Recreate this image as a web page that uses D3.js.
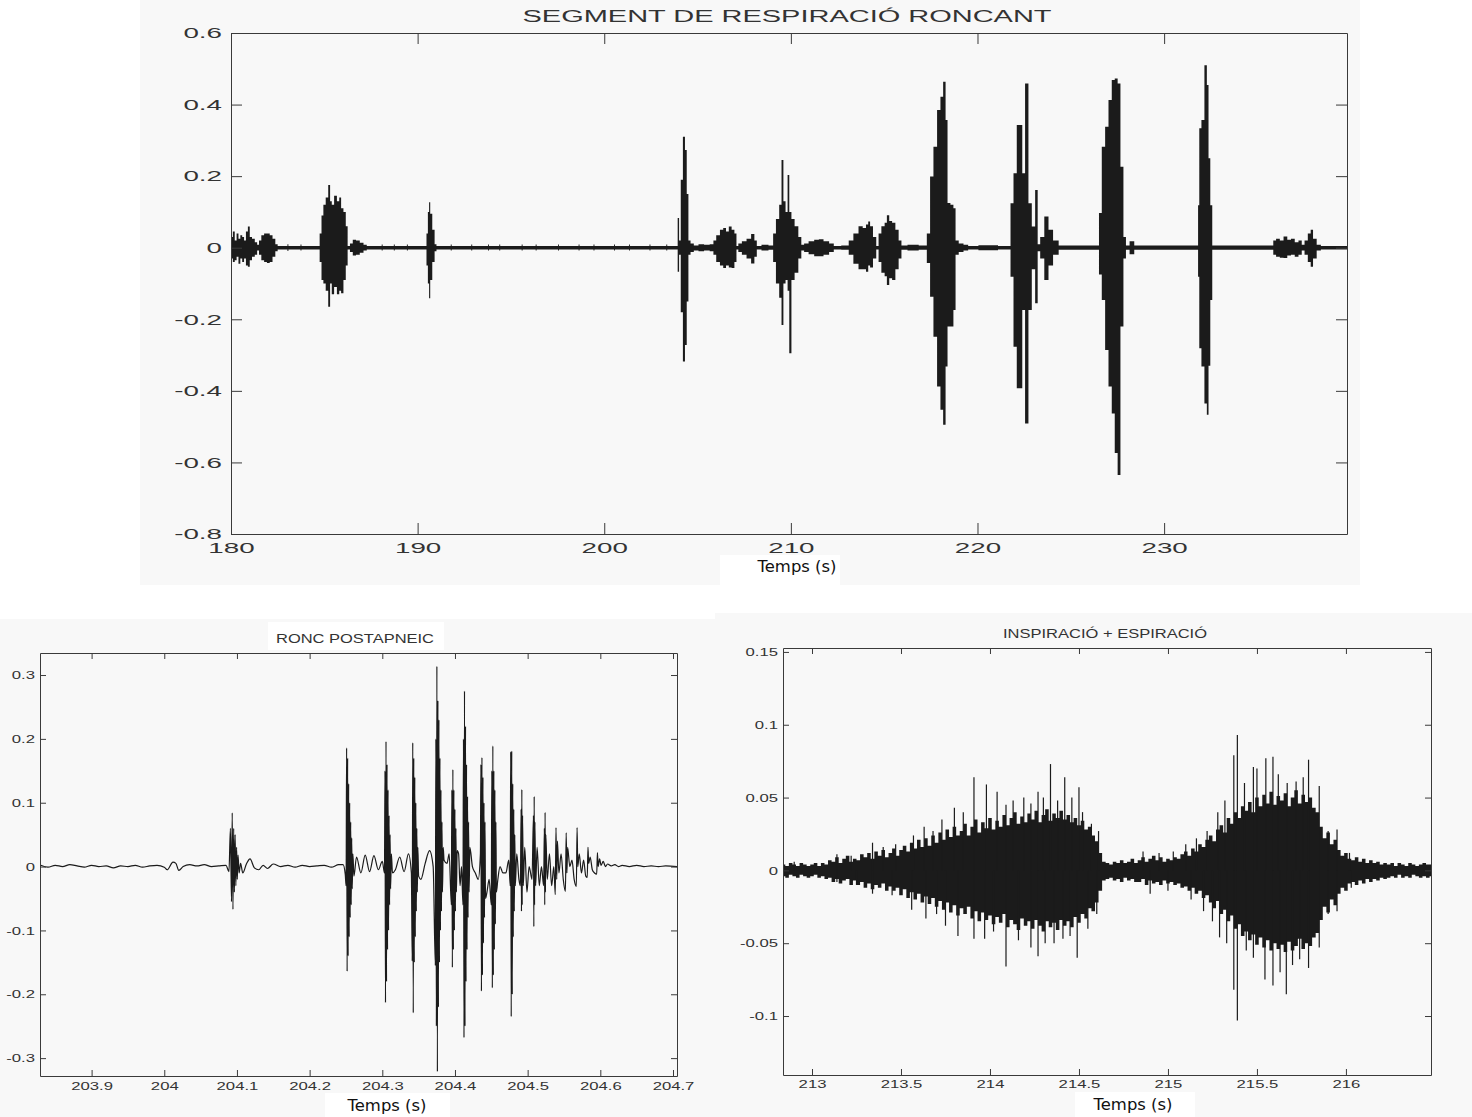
<!DOCTYPE html>
<html>
<head>
<meta charset="utf-8">
<script src="https://cdn.jsdelivr.net/npm/d3@7"></script>
<style>
  body { margin: 0; background: #ffffff; }
  svg { display: block; }
</style>
</head>
<body>
<script>
// ---- data ----

// top panel: envelope of the whole snoring segment (s, upper, lower)
var topTime = [
  180.00,180.05,180.15,180.25,180.35,180.45,180.55,180.65,180.75,180.85,180.96,181.05,181.20,181.35,181.45,181.55,181.70,181.85,182.00,182.15,182.30,182.45,182.55,
  183.00,183.05,183.10,183.70,183.75,183.80,
  184.70,184.80,184.90,185.00,185.15,185.27,185.35,185.45,185.60,185.75,185.85,185.95,186.10,186.20,186.30,186.45,186.60,186.80,187.00,187.20,187.35,
  188.05,188.10,188.15,188.70,188.75,188.80,189.40,189.45,189.50,
  190.45,190.50,190.60,190.63,190.72,190.85,190.97,191.05,
  191.75,191.80,191.85,192.85,192.90,192.95,193.75,193.80,193.85,194.35,194.40,194.45,195.55,195.60,195.65,196.30,196.35,196.40,197.50,197.55,197.60,198.60,198.65,198.70,199.40,199.45,199.50,200.50,200.55,200.60,201.30,201.35,201.40,202.40,202.45,202.50,203.30,203.35,203.40,
  203.90,203.97,204.05,204.15,204.28,204.37,204.47,204.55,204.70,204.90,205.20,205.50,205.80,205.90,206.10,206.30,206.45,206.60,206.75,206.90,207.05,207.12,207.25,207.50,207.75,207.99,208.10,208.25,208.60,209.00,209.10,209.30,209.45,209.55,209.65,209.78,209.87,209.96,210.10,210.30,210.50,210.62,210.80,211.10,211.40,211.60,211.90,212.20,212.40,213.00,213.20,213.50,213.75,213.95,214.10,214.19,214.30,214.50,214.65,214.75,214.95,215.10,215.19,215.35,215.50,215.70,215.85,216.00,216.50,
  217.20,217.37,217.55,217.73,217.94,218.09,218.23,218.35,218.44,218.66,218.76,218.89,219.10,219.40,219.60,220.50,221.70,221.84,222.02,222.19,222.34,222.46,222.64,222.82,223.00,223.18,223.27,223.45,223.71,223.90,224.20,224.50,225.30,226.45,226.57,226.75,226.93,227.11,227.28,227.43,227.59,227.73,227.91,228.00,228.30,228.50,229.50,231.80,231.84,231.93,232.07,232.25,232.33,232.43,232.52,232.64,235.80,235.90,236.10,236.30,236.50,236.70,236.90,237.10,237.30,237.45,237.60,237.80,237.91,238.05,238.30,238.50,239.80
];
var topUpper = [
  .005,.030,.045,.020,.040,.025,.035,.030,.020,.045,.059,.030,.025,.015,.008,.020,.035,.040,.040,.035,.025,.010,.005,
  .005,.010,.005,.005,.009,.005,
  .005,.040,.090,.120,.140,.175,.130,.120,.145,.130,.140,.110,.100,.060,.005,.012,.022,.020,.014,.008,.005,
  .005,.009,.005,.005,.009,.005,.005,.009,.005,
  .005,.040,.100,.127,.095,.050,.010,.005,
  .005,.009,.005,.005,.009,.005,.005,.009,.005,.005,.009,.005,.005,.009,.005,.005,.009,.005,.005,.009,.005,.005,.009,.005,.005,.009,.005,.005,.009,.005,.005,.009,.005,.005,.009,.005,.005,.009,.005,
  .005,.083,.020,.190,.310,.273,.150,.020,.012,.006,.010,.008,.010,.020,.035,.050,.055,.045,.059,.050,.040,.005,.012,.018,.025,.038,.020,.005,.008,.006,.040,.080,.120,.245,.130,.100,.203,.100,.080,.060,.030,.008,.012,.018,.022,.024,.018,.012,.005,.006,.020,.040,.060,.055,.065,.073,.060,.030,.005,.040,.060,.070,.091,.075,.070,.050,.020,.006,.008,
  .006,.040,.199,.282,.385,.422,.464,.357,.125,.120,.110,.020,.012,.008,.005,.007,.005,.124,.208,.343,.343,.208,.459,.124,.059,.161,.010,.030,.087,.050,.020,.006,.006,.006,.097,.282,.338,.413,.469,.473,.459,.226,.030,.006,.018,.006,.006,.006,.119,.334,.357,.510,.455,.250,.119,.006,.006,.020,.025,.020,.031,.022,.025,.015,.020,.008,.020,.040,.050,.025,.008,.005,.005
];
var topLower = [
  -.005,-.030,-.040,-.035,-.025,-.045,-.030,-.040,-.030,-.050,-.053,-.035,-.025,-.020,-.008,-.020,-.035,-.040,-.043,-.040,-.025,-.010,-.005,
  -.005,-.009,-.005,-.005,-.008,-.005,
  -.005,-.040,-.090,-.100,-.120,-.165,-.100,-.130,-.110,-.130,-.120,-.127,-.090,-.050,-.005,-.012,-.022,-.020,-.014,-.008,-.005,
  -.005,-.008,-.005,-.005,-.008,-.005,-.005,-.008,-.005,
  -.005,-.050,-.100,-.141,-.090,-.040,-.010,-.005,
  -.005,-.008,-.005,-.005,-.008,-.005,-.005,-.008,-.005,-.005,-.008,-.005,-.005,-.008,-.005,-.005,-.008,-.005,-.005,-.008,-.005,-.005,-.008,-.005,-.005,-.008,-.005,-.005,-.008,-.005,-.005,-.008,-.005,-.005,-.008,-.005,-.005,-.008,-.005,
  -.005,-.067,-.020,-.180,-.318,-.272,-.150,-.020,-.012,-.008,-.010,-.008,-.010,-.020,-.040,-.050,-.057,-.050,-.055,-.057,-.040,-.005,-.012,-.020,-.030,-.044,-.025,-.005,-.008,-.006,-.040,-.100,-.140,-.216,-.100,-.090,-.120,-.295,-.090,-.070,-.030,-.008,-.012,-.018,-.024,-.024,-.020,-.012,-.005,-.006,-.020,-.045,-.060,-.060,-.067,-.050,-.055,-.030,-.005,-.040,-.070,-.080,-.104,-.085,-.090,-.060,-.030,-.006,-.008,
  -.006,-.043,-.137,-.249,-.388,-.453,-.495,-.332,-.220,-.220,-.174,-.020,-.012,-.008,-.005,-.007,-.005,-.081,-.277,-.393,-.393,-.174,-.491,-.174,-.060,-.155,-.010,-.030,-.090,-.050,-.020,-.006,-.006,-.006,-.075,-.146,-.286,-.388,-.463,-.574,-.635,-.220,-.030,-.006,-.018,-.006,-.006,-.006,-.081,-.281,-.332,-.435,-.467,-.330,-.146,-.006,-.006,-.020,-.025,-.028,-.029,-.022,-.020,-.025,-.020,-.008,-.020,-.040,-.053,-.030,-.008,-.005,-.005
];
var topXTicks = [180, 190, 200, 210, 220, 230];
var topXLabels = ["180", "190", "200", "210", "220", "230"];
var topYTicks = [-0.8, -0.6, -0.4, -0.2, 0, 0.2, 0.4, 0.6];
var topYLabels = ["-0.8", "-0.6", "-0.4", "-0.2", "0", "0.2", "0.4", "0.6"];

// bottom left: post-apnoeic snore, trace points (s, value)
var blTime = [
  203.830,203.840,203.850,203.860,203.870,203.880,203.890,203.900,203.910,203.920,203.930,203.940,203.950,203.960,203.970,203.980,203.990,204.000,
  204.004,204.012,204.016,204.020,204.026,204.035,204.045,204.055,204.065,204.075,204.085,204.089,204.091,204.0925,204.0935,204.0945,204.0955,204.0965,204.0975,204.0985,204.0995,204.1005,204.1015,204.103,204.105,204.108,204.113,204.118,204.124,204.130,204.136,204.142,204.150,204.160,204.170,204.180,204.190,204.200,204.210,204.220,204.230,204.240,
  204.246,204.249,204.2502,204.2509,204.2516,204.2523,204.253,204.2537,204.2544,204.2551,204.2558,204.2565,204.2572,204.2579,204.2586,204.2595,204.261,204.2645,204.2705,204.2765,204.2825,204.2885,204.2945,204.300,
  204.303,204.3037,204.3044,204.3051,204.3058,204.3065,204.3072,204.3079,204.3086,204.3093,204.310,204.3107,204.3114,204.3125,204.314,204.318,204.324,204.330,204.336,204.340,
  204.3412,204.3419,204.3426,204.3433,204.344,204.3447,204.3454,204.3461,204.3468,204.3475,204.3482,204.3489,204.350,204.353,204.359,204.365,204.370,
  204.373,204.3737,204.3744,204.3751,204.3758,204.3765,204.3772,204.3779,204.3786,204.3793,204.380,204.3807,204.3814,204.3821,204.3828,204.3838,204.385,204.389,204.392,
  204.395,204.3957,204.3964,204.3971,204.3978,204.3985,204.3992,204.3999,204.4006,204.4013,204.402,204.403,204.405,204.407,204.409,
  204.411,204.4117,204.4124,204.4131,204.4138,204.4145,204.4152,204.4159,204.4166,204.4173,204.418,204.4187,204.4194,204.4205,204.424,204.428,204.432,
  204.435,204.4357,204.4364,204.4371,204.4378,204.4385,204.4392,204.4399,204.4406,204.4413,204.442,204.444,204.447,
  204.450,204.4507,204.4514,204.4521,204.4528,204.4535,204.4542,204.4549,204.4556,204.4563,204.457,204.459,204.462,204.466,204.470,204.474,
  204.476,204.4767,204.4774,204.4781,204.4788,204.4795,204.4802,204.4809,204.4816,204.4823,204.483,204.485,204.488,
  204.490,204.491,204.4915,204.492,204.4925,204.493,204.494,204.496,204.499,204.502,
  204.506,204.508,204.5085,204.509,204.5095,204.510,204.511,204.513,204.516,204.519,
  204.522,204.523,204.5235,204.524,204.5245,204.525,204.527,204.530,204.533,204.536,
  204.538,204.539,204.540,204.541,204.543,204.546,204.549,
  204.552,204.553,204.554,204.555,204.558,204.561,204.564,
  204.567,204.568,204.569,204.571,204.574,204.577,204.580,
  204.582,204.583,204.584,204.586,204.589,204.592,
  204.595,204.596,204.597,204.599,204.601,204.604,204.607,204.610,204.615,204.620,204.625,204.630,204.640,204.650,204.660,204.670,204.680,204.690,204.7055
];
var blValue = [
  .002,-.001,.002,.000,.003,.001,-.001,.002,.000,.001,-.002,.001,.000,.002,-.001,.001,.002,-.001,
  -.005,.007,.005,-.006,.000,.003,.001,.003,.000,.001,.002,-.008,.060,-.055,.084,-.067,.060,-.040,.050,-.030,.030,-.020,.018,-.010,.005,-.010,.004,.012,-.002,-.005,.002,-.003,.004,.000,.002,-.001,.002,.000,.001,.002,-.001,.003,
  .003,-.012,-.030,.186,-.164,.170,-.140,.130,-.110,.100,-.080,.070,-.060,.045,-.035,.020,-.015,.015,-.010,.018,-.008,.017,-.005,.008,
  -.010,.150,-.213,.196,-.180,.160,-.130,.120,-.100,.080,-.060,.050,-.035,.020,-.010,-.005,.015,-.008,.020,-.010,
  -.148,.194,-.229,.170,-.150,.140,-.110,.100,-.070,.060,-.040,.030,-.015,-.020,.005,.025,.000,
  -.155,.200,-.250,.314,-.321,.260,-.220,.230,-.150,.170,-.100,.120,-.070,.070,-.040,.030,.010,.005,.020,
  -.060,.120,-.158,.152,-.130,.120,-.100,.090,-.070,.060,-.040,.025,.020,-.030,.000,
  -.060,.200,-.268,.275,-.250,.220,-.180,.160,-.130,.110,-.080,.070,-.040,.030,.000,-.010,-.020,
  .020,.160,-.195,.171,-.170,.140,-.120,.100,-.080,.070,-.050,-.040,-.020,
  -.060,.150,-.190,.189,-.170,.150,-.130,.120,-.090,.070,-.040,-.020,.000,-.010,-.010,.010,
  -.030,.180,-.235,.181,-.200,.130,-.110,.090,-.070,.050,-.030,.020,-.020,
  -.030,.090,-.070,.121,-.060,.080,-.030,.030,-.040,.000,
  -.020,.080,-.094,.110,-.060,.070,-.030,.030,-.030,.000,
  -.030,.060,-.060,.085,-.040,.050,-.020,.020,-.030,.000,
  -.044,.061,-.020,.040,-.010,.020,-.020,
  -.039,.053,-.010,.030,.000,.010,-.020,
  -.031,.061,.000,.020,-.010,.010,-.015,
  -.017,.030,.005,.015,-.005,-.010,
  -.012,.022,.000,.012,.002,.008,.000,.004,.001,.003,.000,.002,.000,.002,.000,.001,.000,.001,.000
];
var blXTicks = [203.9, 204, 204.1, 204.2, 204.3, 204.4, 204.5, 204.6, 204.7];
var blXLabels = ["203.9", "204", "204.1", "204.2", "204.3", "204.4", "204.5", "204.6", "204.7"];
var blYTicks = [-0.3, -0.2, -0.1, 0, 0.1, 0.2, 0.3];
var blYLabels = ["-0.3", "-0.2", "-0.1", "0", "0.1", "0.2", "0.3"];

// bottom right: inspiration + expiration, ragged dense core and the loose spikes
var brTime = [
  212.84,212.86,212.88,212.90,212.92,212.94,212.96,212.98,213.00,213.02,
  213.04,213.06,213.08,213.10,213.12,213.14,213.16,213.18,213.20,213.22,
  213.24,213.26,213.28,213.30,213.32,213.34,213.36,213.38,213.40,213.42,
  213.44,213.46,213.48,213.50,213.52,213.54,213.56,213.58,213.60,213.62,
  213.64,213.66,213.68,213.70,213.72,213.74,213.76,213.78,213.80,213.82,
  213.84,213.86,213.88,213.90,213.92,213.94,213.96,213.98,214.00,214.02,
  214.04,214.06,214.08,214.10,214.12,214.14,214.16,214.18,214.20,214.22,
  214.24,214.26,214.28,214.30,214.32,214.34,214.36,214.38,214.40,214.42,
  214.44,214.46,214.48,214.50,214.52,214.54,214.56,214.58,214.60,214.62,
  214.64,214.66,214.68,214.70,214.72,214.74,214.76,214.78,214.80,214.82,
  214.84,214.86,214.88,214.90,214.92,214.94,214.96,214.98,215.00,215.02,
  215.04,215.06,215.08,215.10,215.12,215.14,215.16,215.18,215.20,215.22,
  215.24,215.26,215.28,215.30,215.32,215.34,215.36,215.38,215.40,215.42,
  215.44,215.46,215.48,215.50,215.52,215.54,215.56,215.58,215.60,215.62,
  215.64,215.66,215.68,215.70,215.72,215.74,215.76,215.78,215.80,215.82,
  215.84,215.86,215.88,215.90,215.92,215.94,215.96,215.98,216.00,216.02,
  216.04,216.06,216.08,216.10,216.12,216.14,216.16,216.18,216.20,216.22,
  216.24,216.26,216.28,216.30,216.32,216.34,216.36,216.38,216.40,216.42,
  216.44,216.46,216.48
];
var brUpper = [
  .004,.003,.005,.004,.003,.005,.004,.003,.004,.005,
  .003,.005,.004,.007,.006,.009,.005,.008,.010,.006,
  .008,.007,.011,.009,.012,.008,.013,.010,.014,.009,
  .012,.015,.010,.014,.017,.013,.019,.015,.021,.016,
  .022,.017,.024,.019,.026,.021,.028,.023,.030,.024,
  .027,.032,.024,.030,.035,.026,.033,.029,.036,.028,
  .034,.030,.038,.031,.036,.040,.032,.037,.033,.039,
  .035,.041,.033,.038,.042,.034,.039,.036,.041,.035,
  .038,.033,.036,.031,.034,.028,.030,.024,.020,.012,
  .006,.005,.004,.006,.005,.007,.005,.006,.008,.005,
  .007,.009,.006,.008,.010,.007,.009,.006,.008,.007,
  .009,.008,.011,.013,.010,.015,.013,.018,.016,.021,
  .024,.020,.028,.031,.026,.036,.032,.040,.036,.044,
  .041,.047,.040,.050,.044,.052,.046,.054,.045,.051,
  .048,.053,.044,.050,.055,.046,.052,.047,.050,.043,
  .040,.030,.022,.026,.018,.021,.014,.010,.012,.008,
  .007,.009,.006,.008,.005,.007,.005,.006,.004,.005,
  .004,.005,.003,.005,.004,.003,.005,.004,.003,.004,
  .005,.004,.004
];
var brLower = [
  -.004,-.005,-.003,-.004,-.005,-.003,-.004,-.005,-.004,-.003,
  -.005,-.004,-.006,-.005,-.008,-.006,-.009,-.007,-.006,-.010,
  -.007,-.010,-.008,-.012,-.009,-.013,-.010,-.012,-.009,-.014,
  -.011,-.014,-.012,-.017,-.013,-.019,-.015,-.020,-.016,-.022,
  -.018,-.023,-.019,-.025,-.021,-.027,-.022,-.029,-.024,-.031,
  -.026,-.030,-.025,-.033,-.028,-.035,-.029,-.034,-.031,-.037,
  -.032,-.036,-.030,-.039,-.034,-.037,-.041,-.033,-.038,-.035,
  -.040,-.034,-.038,-.042,-.035,-.039,-.036,-.041,-.034,-.038,
  -.035,-.039,-.032,-.036,-.030,-.033,-.026,-.028,-.022,-.014,
  -.007,-.006,-.005,-.007,-.006,-.008,-.005,-.007,-.006,-.008,
  -.008,-.006,-.010,-.007,-.009,-.008,-.010,-.007,-.009,-.008,
  -.010,-.009,-.012,-.011,-.014,-.012,-.016,-.014,-.019,-.017,
  -.022,-.026,-.021,-.030,-.027,-.035,-.031,-.040,-.037,-.045,
  -.042,-.048,-.044,-.051,-.046,-.053,-.048,-.055,-.050,-.054,
  -.051,-.056,-.049,-.055,-.052,-.047,-.054,-.050,-.052,-.046,
  -.043,-.034,-.025,-.029,-.020,-.024,-.016,-.012,-.014,-.009,
  -.008,-.010,-.007,-.009,-.006,-.008,-.006,-.007,-.005,-.006,
  -.005,-.004,-.005,-.003,-.005,-.004,-.005,-.003,-.004,-.005,
  -.004,-.005,-.004
];
var brSpikeTime = [
  212.90,213.14,213.22,213.34,213.40,213.47,213.57,213.63,213.68,213.73,
  213.80,213.85,213.91,213.98,214.04,214.09,214.13,214.19,214.23,214.27,
  214.30,214.34,214.38,214.42,214.46,214.50,214.52,214.57,214.61,214.86,
  214.95,215.03,215.10,215.16,215.22,215.28,215.32,215.37,215.39,215.43,
  215.48,215.50,215.55,215.59,215.62,215.67,215.72,215.76,215.79,215.85,
  215.90,215.95,216.02,
  213.14,213.25,213.34,213.45,213.56,213.64,213.70,213.75,213.82,213.91,
  213.97,214.02,214.09,214.16,214.23,214.27,214.31,214.36,214.41,214.45,
  214.49,214.55,214.60,214.90,215.00,215.13,215.20,215.25,215.29,215.33,
  215.37,215.39,215.44,215.48,215.545,215.59,215.63,215.665,215.70,215.74,
  215.79,215.85,215.90,215.95,216.03
];
var brSpikeValue = [
  .006,.011,.010,.019,.016,.018,.024,.030,.027,.035,
  .043,.040,.064,.059,.054,.045,.048,.050,.046,.054,
  .050,.073,.048,.064,.050,.057,.040,.032,.027,.013,
  .012,.013,.018,.022,.027,.040,.048,.079,.093,.060,
  .071,.070,.077,.078,.066,.060,.061,.064,.076,.058,
  .027,.028,.012,
  -.008,-.010,-.016,-.017,-.027,-.033,-.030,-.038,-.045,-.047,
  -.047,-.042,-.066,-.048,-.053,-.059,-.050,-.050,-.047,-.045,
  -.060,-.040,-.030,-.016,-.014,-.020,-.028,-.035,-.046,-.050,
  -.082,-.103,-.055,-.060,-.075,-.079,-.070,-.085,-.065,-.061,
  -.067,-.053,-.030,-.028,-.012
];
var brXTicks = [213, 213.5, 214, 214.5, 215, 215.5, 216];
var brXLabels = ["213", "213.5", "214", "214.5", "215", "215.5", "216"];
var brYTicks = [-0.1, -0.05, 0, 0.05, 0.1, 0.15];
var brYLabels = ["-0.1", "-0.05", "0", "0.05", "0.1", "0.15"];

var titles = ["SEGMENT DE RESPIRACIÓ RONCANT", "RONC POSTAPNEIC", "INSPIRACIÓ + ESPIRACIÓ"];
var xTitle = "Temps (s)";

// ---- drawing ----
var ink = "#1b1b1b", axisCol = "#3a3a3a", panelBg = "#f8f8f8";

var svg = d3.select("body").append("svg")
    .attr("width", 1472)
    .attr("height", 1117);

// panel backgrounds
svg.append("rect").attr("x", 140).attr("y", 0).attr("width", 1220).attr("height", 585).attr("fill", panelBg);
svg.append("rect").attr("x", 0).attr("y", 619).attr("width", 715).attr("height", 498).attr("fill", panelBg);
svg.append("rect").attr("x", 715).attr("y", 613).attr("width", 757).attr("height", 504).attr("fill", panelBg);
// white boxes behind labels
svg.append("rect").attr("x", 720).attr("y", 555).attr("width", 120).attr("height", 30).attr("fill", "#fff");
svg.append("rect").attr("x", 268).attr("y", 622).attr("width", 176).attr("height", 28).attr("fill", "#fff");
svg.append("rect").attr("x", 325).attr("y", 1093).attr("width", 125).attr("height", 24).attr("fill", "#fff");
svg.append("rect").attr("x", 1075).attr("y", 1092).attr("width", 120).attr("height", 25).attr("fill", "#fff");

function widen(sel, sx) {
    sel.selectAll(".tick text").each(function() {
        var w = this.getComputedTextLength();
        d3.select(this)
            .attr("textLength", w * sx)
            .attr("lengthAdjust", "spacingAndGlyphs");
    });
}

function makePanel(o) {
    var width = o.x1 - o.x0, height = o.y1 - o.y0;
    var g = svg.append("g").attr("transform", "translate(" + o.x0 + "," + o.y0 + ")");
    var x = d3.scaleLinear().domain(o.xDomain).range([0, width]);
    var y = d3.scaleLinear().domain(o.yDomain).range([height, 0]);

    g.append("clipPath").attr("id", o.id + "clip")
        .append("rect").attr("width", width).attr("height", height);

    var plot = g.append("g").attr("clip-path", "url(#" + o.id + "clip)");

    var font = function(a) {
        a.attr("font-family", "'Liberation Sans', Arial, sans-serif")
            .attr("font-size", o.fontSize);
        a.selectAll("path, line").attr("stroke", axisCol);
        a.selectAll("text").attr("fill", "#333");
    };

    var xb = g.append("g")
        .attr("transform", "translate(0," + height + ")")
        .call(d3.axisBottom(x).tickValues(o.xTicks)
            .tickFormat(function(d, i) { return o.xLabels[i]; })
            .tickSizeInner(-o.tick).tickSizeOuter(0).tickPadding(o.xPad));
    font(xb);
    widen(xb, o.sx);

    var yl = g.append("g")
        .call(d3.axisLeft(y).tickValues(o.yTicks)
            .tickFormat(function(d, i) { return o.yLabels[i]; })
            .tickSizeInner(-o.tick).tickSizeOuter(0).tickPadding(o.yPad));
    font(yl);
    widen(yl, o.sx);

    var xt = g.append("g")
        .call(d3.axisTop(x).tickValues(o.xTicks).tickFormat("")
            .tickSizeInner(-o.tick).tickSizeOuter(0));
    font(xt);
    var yr = g.append("g")
        .attr("transform", "translate(" + width + ",0)")
        .call(d3.axisRight(y).tickValues(o.yTicks).tickFormat("")
            .tickSizeInner(-o.tick).tickSizeOuter(0));
    font(yr);

    return {g: g, plot: plot, x: x, y: y, width: width, height: height};
}

function addTitle(txt, cx, by, size, len) {
    svg.append("text")
        .attr("x", cx).attr("y", by)
        .attr("text-anchor", "middle")
        .attr("font-family", "'Liberation Sans', Arial, sans-serif")
        .attr("font-size", size)
        .attr("fill", "#333")
        .attr("textLength", len)
        .attr("lengthAdjust", "spacingAndGlyphs")
        .text(txt);
}

function addXTitle(cx, by) {
    svg.append("text")
        .attr("x", cx).attr("y", by)
        .attr("text-anchor", "middle")
        .attr("font-family", "'DejaVu Sans', Verdana, sans-serif")
        .attr("font-size", 15)
        .attr("fill", "#111")
        .attr("textLength", 79)
        .attr("lengthAdjust", "spacingAndGlyphs")
        .text(xTitle);
}

// top panel
var pTop = makePanel({id: "ptop", x0: 231, x1: 1347, y0: 33, y1: 534,
    xDomain: [180, 239.8], yDomain: [-0.8, 0.6],
    xTicks: topXTicks, xLabels: topXLabels, yTicks: topYTicks, yLabels: topYLabels,
    tick: 11, fontSize: 15, sx: 1.85, xPad: 8, yPad: 9});

var topData = topTime.map(function(t, i) { return {t: t, hi: topUpper[i], lo: topLower[i]}; });
pTop.plot.append("path")
    .datum(topData)
    .attr("fill", ink)
    .attr("d", d3.area()
        .curve(d3.curveStep)
        .x(function(d) { return pTop.x(d.t); })
        .y0(function(d) { return pTop.y(d.lo); })
        .y1(function(d) { return pTop.y(d.hi); }));

addTitle(titles[0], 787, 22, 16, 529);
addXTitle(797, 572);

// bottom left panel
var pLeft = makePanel({id: "pleft", x0: 40, x1: 677, y0: 653, y1: 1076,
    xDomain: [203.829, 204.7055], yDomain: [-0.328, 0.3345],
    xTicks: blXTicks, xLabels: blXLabels, yTicks: blYTicks, yLabels: blYLabels,
    tick: 6, fontSize: 11.5, sx: 1.45, xPad: 6, yPad: 5});

var blData = blTime.map(function(t, i) { return {t: t, v: blValue[i]}; });
pLeft.plot.append("path")
    .datum(blData)
    .attr("fill", "none")
    .attr("stroke", ink)
    .attr("stroke-width", 1.2)
    .attr("stroke-linejoin", "round")
    .attr("d", d3.line()
        .curve(d3.curveMonotoneX)
        .x(function(d) { return pLeft.x(d.t); })
        .y(function(d) { return pLeft.y(d.v); }));

addTitle(titles[1], 355, 643, 13, 158);
addXTitle(387, 1111);

// bottom right panel
var pRight = makePanel({id: "pright", x0: 783, x1: 1431, y0: 648, y1: 1075,
    xDomain: [212.837, 216.478], yDomain: [-0.1405, 0.1527],
    xTicks: brXTicks, xLabels: brXLabels, yTicks: brYTicks, yLabels: brYLabels,
    tick: 6, fontSize: 11.5, sx: 1.45, xPad: 5, yPad: 5});

var brData = brTime.map(function(t, i) { return {t: t, hi: brUpper[i], lo: brLower[i]}; });
pRight.plot.append("path")
    .datum(brData)
    .attr("fill", ink)
    .attr("d", d3.area()
        .curve(d3.curveStep)
        .x(function(d) { return pRight.x(d.t); })
        .y0(function(d) { return pRight.y(d.lo); })
        .y1(function(d) { return pRight.y(d.hi); }));

pRight.plot.selectAll("line.spike")
    .data(brSpikeTime.map(function(t, i) { return {t: t, v: brSpikeValue[i]}; }))
    .enter().append("line")
    .attr("class", "spike")
    .attr("x1", function(d) { return pRight.x(d.t); })
    .attr("x2", function(d) { return pRight.x(d.t); })
    .attr("y1", pRight.y(0))
    .attr("y2", function(d) { return pRight.y(d.v); })
    .attr("stroke", ink)
    .attr("stroke-width", 1.2);

addTitle(titles[2], 1105, 638, 13, 204);
addXTitle(1133, 1110);
</script>
</body>
</html>
